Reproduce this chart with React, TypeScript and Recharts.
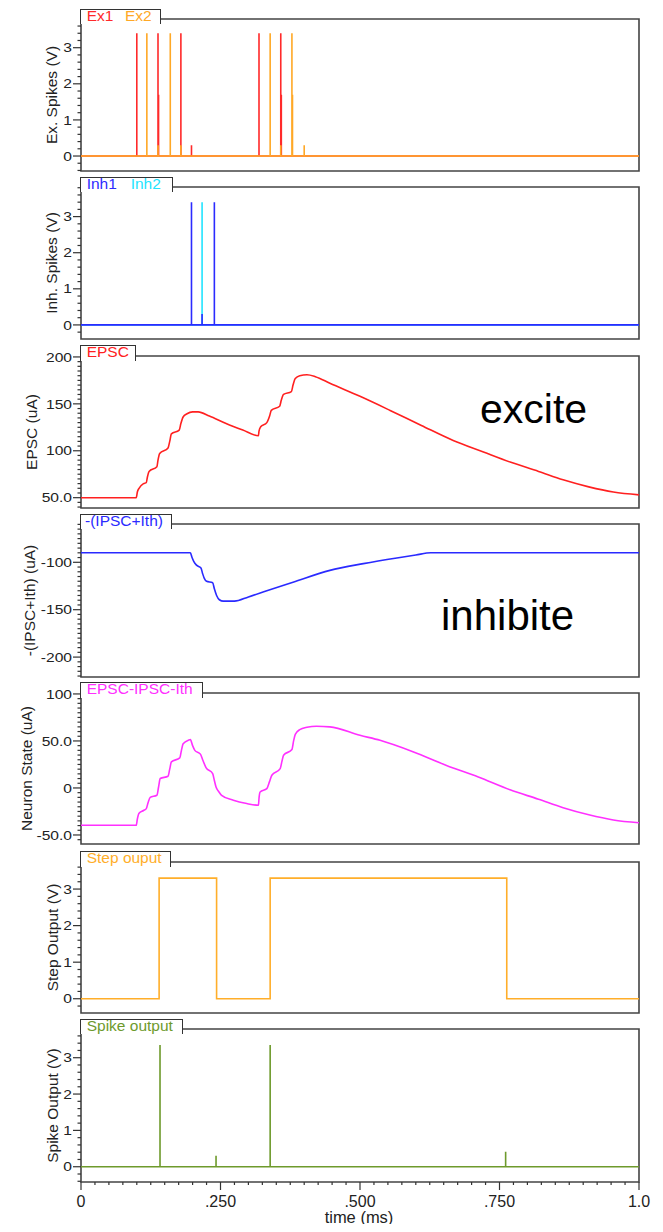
import React from "react";
import { LineChart, Line, XAxis, YAxis, ReferenceArea } from "recharts";

// spike trains (time in ms, amplitude in V)
const ex1Times = [0.1, 0.138, 0.139, 0.179, 0.198, 0.319, 0.358, 0.359];
const ex1Amps = [3.4, 3.4, 1.7, 3.4, 0.3, 3.4, 3.4, 1.7];
const ex2Times = [0.118, 0.138, 0.16, 0.179, 0.339, 0.358, 0.378, 0.379, 0.4];
const ex2Amps = [3.4, 0.3, 3.4, 0.3, 3.4, 0.3, 3.4, 1.7, 0.3];
const inh1Times = [0.198, 0.217, 0.239];
const inh1Amps = [3.4, 0.3, 3.4];
const inh2Times = [0.217];
const inh2Amps = [3.4];
const spikeOutTimes = [0.1416, 0.242, 0.339, 0.761];
const spikeOutAmps = [3.35, 0.3, 3.35, 0.41];

const stepTimes = [0, 0.14, 0.243, 0.339, 0.763, 1];
const stepLevels = [0, 3.3, 0, 3.3, 0, 0];

const epscTimes = [
  0, 0.099, 0.101, 0.104, 0.112, 0.117, 0.119, 0.122, 0.136, 0.138, 0.141, 0.156, 0.159, 0.162,
  0.176, 0.179, 0.183, 0.19, 0.2, 0.21, 0.23, 0.26, 0.29, 0.318, 0.319, 0.322, 0.333, 0.338,
  0.341, 0.356, 0.359, 0.363, 0.377, 0.38, 0.384, 0.392, 0.405, 0.42, 0.446, 0.5, 0.554, 0.61,
  0.667, 0.72, 0.769, 0.82, 0.864, 0.91, 0.954, 1,
];
const epscValues = [
  50, 50, 56, 60, 65, 66, 72, 78, 83, 90, 97, 103, 110, 118,
  122, 129, 136, 139.5, 141.5, 141.5, 137, 129, 122, 116, 121, 125.5, 130, 137,
  143, 147.5, 154, 160, 163, 170, 177, 180, 181, 179, 172, 158, 143, 127,
  111, 99, 88, 78, 69, 61.5, 56, 53,
];

const ipscTimes = [
  0, 0.196, 0.199, 0.202, 0.207, 0.215, 0.218, 0.221, 0.225, 0.236, 0.239, 0.243, 0.248, 0.255,
  0.275, 0.3, 0.333, 0.38, 0.446, 0.506, 0.566, 0.6, 0.627, 1,
];
const ipscValues = [
  -90, -90, -95, -99, -103, -106, -112, -117, -120, -121.5, -128, -135, -139.5, -141,
  -141, -136.5, -130, -121, -108.5, -101.4, -95.4, -92.3, -90, -90,
];

const stateTimes = [
  0, 0.099, 0.101, 0.104, 0.112, 0.117, 0.12, 0.124, 0.136, 0.139, 0.142, 0.156, 0.159, 0.162,
  0.177, 0.18, 0.183, 0.193, 0.196, 0.2, 0.204, 0.214, 0.218, 0.224, 0.236, 0.239, 0.242, 0.247,
  0.252, 0.273, 0.297, 0.318, 0.319, 0.321, 0.333, 0.338, 0.342, 0.357, 0.36, 0.363, 0.378,
  0.381, 0.384, 0.392, 0.405, 0.422, 0.446, 0.5, 0.536, 0.596, 0.655, 0.712, 0.769, 0.82,
  0.864, 0.91, 0.954, 1,
];
const stateValues = [
  -39.7, -39.7, -33, -27, -24, -22, -16, -10, -7.8, 1, 10, 12.5, 20, 27.7,
  32, 40, 47, 51, 51.5, 45, 40, 36, 30, 21.7, 15.3, 8, 1, -4,
  -7.8, -13, -16.6, -18.4, -11, -4.3, -0.7, 7, 13.5, 20.6, 28, 34.8, 40.9,
  50, 57, 62, 64.5, 65.6, 65, 56, 50.7, 38.3, 24, 11.7, -2, -12,
  -21, -28.5, -34, -37,
];

const xMajors = [0, 0.25, 0.5, 0.75, 1];
const xLabels = ["0", ".250", ".500", ".750", "1.0"];

type Pt = { t: number; v: number };

const toSeries = (ts: number[], vs: number[]): Pt[] => ts.map((t, i) => ({ t, v: vs[i] }));

const spikeTrain = (ts: number[], amps: number[]): Pt[] => {
  const pts: Pt[] = [{ t: 0, v: 0 }];
  ts.forEach((t, i) => {
    pts.push({ t, v: 0 }, { t, v: amps[i] }, { t, v: 0 });
  });
  pts.push({ t: 1, v: 0 });
  return pts;
};

const tickRange = (lo: number, hi: number, step: number) => {
  const out: number[] = [];
  for (let k = Math.ceil(lo / step - 1e-9); k * step <= hi + 1e-9; k++) {
    out.push(Number((k * step).toFixed(4)));
  }
  return out;
};

const FONT = "'Liberation Sans', Arial, sans-serif";
const W = 663;
const PLOT_RIGHT = 639;
const AXIS_W = 81;

const voltMajors = [0, 1, 2, 3];
const voltLabels = ["0", "1", "2", "3"];

const panels = [
  {
    title: "Ex. Spikes (V)", titleX: 57, tabTop: 9, top: 19, bottom: 171, tabRight: 160,
    domain: [-0.415, 3.795], majors: voltMajors, labels: voltLabels, minor: 0.2, curve: "linear",
    series: [
      { name: "Ex1", color: "#ff2a2a", data: spikeTrain(ex1Times, ex1Amps), lx: 86.7 },
      { name: "Ex2", color: "#ffa826", data: spikeTrain(ex2Times, ex2Amps), lx: 125 },
    ],
  },
  {
    title: "Inh. Spikes (V)", titleX: 57, tabTop: 177, top: 187, bottom: 339, tabRight: 171.7,
    domain: [-0.39, 3.82], majors: voltMajors, labels: voltLabels, minor: 0.2, curve: "linear",
    series: [
      { name: "Inh2", color: "#22e4ff", data: spikeTrain(inh2Times, inh2Amps), lx: 130.7 },
      { name: "Inh1", color: "#2b2bff", data: spikeTrain(inh1Times, inh1Amps), lx: 86.7 },
    ],
  },
  {
    title: "EPSC (uA)", titleX: 37, tabTop: 345, top: 356, bottom: 508, tabRight: 135,
    domain: [39, 201], majors: [50, 100, 150, 200], labels: ["50.0", "100", "150", "200"], minor: 5,
    curve: "monotone",
    series: [{ name: "EPSC", color: "#ff2020", data: toSeries(epscTimes, epscValues), lx: 86.7 }],
  },
  {
    title: "-(IPSC+Ith) (uA)", titleX: 35, tabTop: 514, top: 524, bottom: 677, tabRight: 171,
    domain: [-221, -59.6], majors: [-200, -150, -100], labels: ["-200", "-150", "-100"], minor: 5,
    curve: "monotone",
    series: [{ name: "-(IPSC+Ith)", color: "#2a2aff", data: toSeries(ipscTimes, ipscValues), lx: 85 }],
  },
  {
    title: "Neuron State (uA)", titleX: 31.5, tabTop: 682, top: 693, bottom: 844, tabRight: 201.7,
    domain: [-59.6, 101], majors: [-50, 0, 50, 100], labels: ["-50.0", "0", "50.0", "100"], minor: 5,
    curve: "monotone",
    series: [{ name: "EPSC-IPSC-Ith", color: "#ff30ff", data: toSeries(stateTimes, stateValues), lx: 86.7 }],
  },
  {
    title: "Step Output (V)", titleX: 57.5, tabTop: 851, top: 862, bottom: 1013, tabRight: 170,
    domain: [-0.39, 3.74], majors: voltMajors, labels: voltLabels, minor: 0.2, curve: "stepAfter",
    series: [{ name: "Step ouput", color: "#ffae2a", data: toSeries(stepTimes, stepLevels), lx: 86.7 }],
  },
  {
    title: "Spike Output (V)", titleX: 57.5, tabTop: 1019, top: 1029, bottom: 1182, tabRight: 182.3,
    domain: [-0.42, 3.79], majors: voltMajors, labels: voltLabels, minor: 0.2, curve: "linear", xAxis: true,
    series: [{ name: "Spike output", color: "#6e9a2c", data: spikeTrain(spikeOutTimes, spikeOutAmps), lx: 86.7 }],
  },
];

const YTick = (props: any) => {
  const { x, y, payload, majors, labels } = props;
  const idx = majors.findIndex((m: number) => Math.abs(m - payload.value) < 1e-6);
  const major = idx >= 0;
  return (
    <g>
      <line x1={x - (major ? 8 : 3.5)} x2={x} y1={y} y2={y} stroke="#333" strokeWidth={1.2} />
      {major && (
        <text
          transform={`translate(${x - 9},${y}) scale(1.2,1)`}
          textAnchor="end"
          dy="0.36em"
          fontSize={13}
          fontFamily={FONT}
          fill="#222"
        >
          {labels[idx]}
        </text>
      )}
    </g>
  );
};

const XTick = (props: any) => {
  const { x, y, payload } = props;
  const idx = xMajors.findIndex((m) => Math.abs(m - payload.value) < 1e-6);
  const major = idx >= 0;
  return (
    <g>
      <line x1={x} x2={x} y1={y} y2={y + (major ? 8 : 3)} stroke="#333" strokeWidth={1.2} />
      {major && (
        <text x={x} y={y + 25} textAnchor="middle" fontSize={16} fontFamily={FONT} fill="#222">
          {xLabels[idx]}
        </text>
      )}
    </g>
  );
};

function Panel({ p }: { p: (typeof panels)[number] }) {
  const chartTop = p.top - 12;
  const xAxisH = p.xAxis ? 1232 - p.bottom : 0;
  const height = p.xAxis ? 1232 - chartTop : p.bottom - chartTop + 4;
  const marginBottom = p.xAxis ? 0 : 4;
  const cy = 12 + (p.bottom - p.top) / 2;
  const yTicks = tickRange(p.domain[0], p.domain[1], p.minor);
  const xTicks = tickRange(0, 1, 0.025);
  return (
    <div style={{ position: "absolute", left: 0, top: chartTop }}>
      <LineChart
        width={W}
        height={height}
        margin={{ top: 12, right: W - PLOT_RIGHT, bottom: marginBottom, left: 0 }}
      >
        <XAxis
          dataKey="t"
          type="number"
          domain={[0, 1]}
          allowDataOverflow
          hide={!p.xAxis}
          height={xAxisH || 1}
          ticks={xTicks}
          interval={0}
          axisLine={false}
          tickLine={false}
          tickSize={0}
          tickMargin={0}
          tick={<XTick />}
          label={
            p.xAxis
              ? {
                  content: () => (
                    <text x={359} y={1223 - chartTop} textAnchor="middle" fontSize={16.5} fontFamily={FONT} fill="#222">
                      time (ms)
                    </text>
                  ),
                }
              : undefined
          }
        />
        <YAxis
          dataKey="v"
          type="number"
          width={AXIS_W}
          domain={p.domain}
          allowDataOverflow
          ticks={yTicks}
          interval={0}
          axisLine={false}
          tickLine={false}
          tickSize={0}
          tickMargin={0}
          tick={<YTick majors={p.majors} labels={p.labels} />}
          label={{
            content: () => (
              <text
                x={p.titleX}
                y={cy}
                transform={`rotate(-90 ${p.titleX} ${cy})`}
                textAnchor="middle"
                fontSize={15.5}
                fontFamily={FONT}
                fill="#222"
              >
                {p.title}
              </text>
            ),
          }}
        />
        <ReferenceArea
          x1={0}
          x2={1}
          y1={p.domain[0]}
          y2={p.domain[1]}
          fill="none"
          fillOpacity={0}
          stroke="#444"
          strokeWidth={1.6}
          ifOverflow="visible"
        />
        {p.series.map((s) => (
          <Line
            key={s.name}
            data={s.data}
            dataKey="v"
            type={p.curve as any}
            stroke={s.color}
            strokeWidth={1.6}
            dot={false}
            activeDot={false}
            isAnimationActive={false}
          />
        ))}
      </LineChart>
      {/* legend tab */}
      <div
        style={{
          position: "absolute",
          left: AXIS_W - 1,
          top: p.tabTop - chartTop,
          width: p.tabRight - AXIS_W,
          height: p.top - p.tabTop + 4,
          background: "#fff",
          borderTop: "1.5px solid #333",
          borderLeft: "1.5px solid #333",
          borderRight: "1.5px solid #333",
        }}
      />
      {p.series.map((s) => (
        <div
          key={s.name}
          style={{
            position: "absolute",
            left: s.lx,
            top: p.tabTop - chartTop - 1,
            fontSize: 15.5,
            lineHeight: 1,
            fontFamily: FONT,
            color: s.color,
            whiteSpace: "nowrap",
          }}
        >
          {s.name}
        </div>
      ))}
    </div>
  );
}

export default function App() {
  return (
    <div
      style={{
        position: "relative",
        width: W,
        height: 1232,
        margin: -8,
        background: "#fff",
        overflow: "hidden",
        fontFamily: FONT,
      }}
    >
      {panels.map((p) => (
        <Panel key={p.title} p={p} />
      ))}
      <svg width={W} height={1232} style={{ position: "absolute", left: 0, top: 0, pointerEvents: "none" }}>
        <text x={480} y={423} fontSize={41} fontFamily={FONT} fill="#000">
          excite
        </text>
        <text x={441} y={630} fontSize={42} fontFamily={FONT} fill="#000">
          inhibite
        </text>
        <text x={-3.4} y={967} fontSize={30} fontWeight="bold" fontFamily={FONT} fill="#000">
          )
        </text>
      </svg>
    </div>
  );
}
